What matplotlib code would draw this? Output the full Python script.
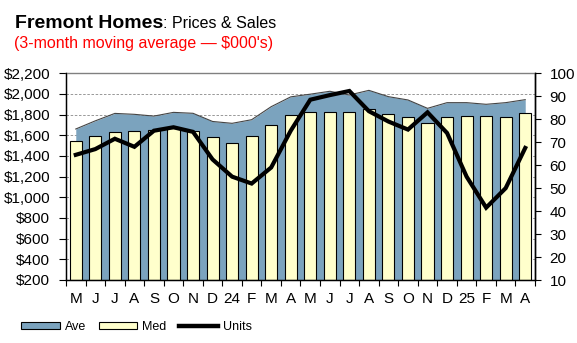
import numpy as np
import matplotlib
matplotlib.use("Agg")
import matplotlib.pyplot as plt
from matplotlib.patches import Patch
from matplotlib.lines import Line2D
from matplotlib.ticker import FuncFormatter, FixedLocator

plt.rcParams['font.family'] = ['Liberation Sans', 'DejaVu Sans']

# ---------- data ----------
months = ["M", "J", "J", "A", "S", "O", "N", "D", "24", "F", "M", "A",
          "M", "J", "J", "A", "S", "O", "N", "D", "25", "F", "M", "A"]

ave_price = [1661, 1740, 1812, 1803, 1786, 1822, 1813, 1734, 1716, 1751, 1877, 1972,
             1998, 2026, 1990, 2035, 1974, 1942, 1861, 1916, 1916, 1900, 1916, 1945]

med_price = [1545, 1590, 1630, 1640, 1648, 1674, 1642, 1581, 1526, 1590, 1698, 1795,
             1823, 1823, 1823, 1852, 1803, 1774, 1716, 1774, 1784, 1784, 1774, 1813]

units = [64.5, 67, 71.5, 68, 75, 76.5, 74.5, 62.5, 55, 52, 59, 75,
         88.5, 90.5, 92.3, 83.5, 79, 75.5, 83, 74, 55, 41.5, 50, 67.5]

# ---------- style ----------
AVE_COLOR = "#7BA3BE"
MED_COLOR = "#FFFFCC"
TITLE_RED = "#FF0000"

W, H = 577, 343
fig = plt.figure(figsize=(W / 100, H / 100), dpi=100)
ax = fig.add_axes([66 / W, 1 - 280 / H, (535 - 66) / W, (280 - 73.3) / H])
x = np.arange(len(months))

# gridlines behind everything
ax.set_axisbelow(True)
ax.yaxis.grid(True, linestyle=(0, (3, 2)), color="#888888", linewidth=0.6, zorder=0)

ax.fill_between(x, 200, ave_price, color=AVE_COLOR, linewidth=0, zorder=1)
ax.plot(x, ave_price, color="#444444", linewidth=0.8, zorder=1.5)
ax.bar(x, [m - 200 for m in med_price], bottom=200, width=0.62,
       color=MED_COLOR, edgecolor="black", linewidth=0.8, zorder=2)

ax.set_xlim(-0.5, len(months) - 0.5)
ax.set_ylim(200, 2200)
ax.set_yticks(np.arange(200, 2201, 200))
ax.yaxis.set_major_formatter(FuncFormatter(lambda v, p: "${:,.0f}".format(v)))
ax.tick_params(axis="y", length=5, width=0.8, pad=6.5, labelsize=11)

# x ticks at category edges, labels at category centres
ax.xaxis.set_major_locator(FixedLocator(np.arange(-0.5, len(months), 1.0)))
ax.xaxis.set_minor_locator(FixedLocator(x))
ax.set_xticklabels([])
ax.set_xticklabels(months, minor=True)
ax.tick_params(axis="x", which="major", length=4, width=0.8)
ax.tick_params(axis="x", which="minor", length=0, pad=8.5, labelsize=11)

for side in ["left", "bottom", "right"]:
    ax.spines[side].set_linewidth(1)
    ax.spines[side].set_color("black")
ax.spines["top"].set_color("#808080")
ax.spines["top"].set_linewidth(1)

ax2 = ax.twinx()
ax2.plot(x, units, color="black", linewidth=3, solid_joinstyle="miter", zorder=5)
ax2.set_ylim(10, 100)
ax2.set_yticks(np.arange(10, 101, 10))
ax2.tick_params(axis="y", length=4, width=0.8, pad=6.5, labelsize=11)
ax2.spines["right"].set_linewidth(1)
ax2.spines["top"].set_visible(False)

# ---------- title ----------
t1 = fig.text(15 / W, 1 - 28 / H, "Fremont Homes", fontsize=14, fontweight="bold",
              va="baseline", ha="left")
t3 = fig.text(14 / W, 1 - 48 / H, "(3-month moving average \u2014 $000's)",
              fontsize=11.5, color=TITLE_RED, va="baseline", ha="left")
fig.canvas.draw()
bb = t1.get_window_extent()
fig.text(bb.x1 / W, 1 - 28 / H, ": Prices & Sales", fontsize=11.5,
         va="baseline", ha="left")

# ---------- legend ----------
handles = [Patch(facecolor=AVE_COLOR, edgecolor="black", linewidth=0.8),
           Patch(facecolor=MED_COLOR, edgecolor="black", linewidth=0.8),
           Line2D([0], [0], color="black", linewidth=3.2)]
fig.legend(handles, ["Ave", "Med", "Units"], loc="center left",
           bbox_to_anchor=(21 / W, 1 - 327 / H), ncol=3, frameon=False,
           fontsize=9, handlelength=3.1, handleheight=0.55, handletextpad=0.4,
           columnspacing=1.0, borderpad=0, borderaxespad=0)

fig.savefig("out.png", dpi=100)
